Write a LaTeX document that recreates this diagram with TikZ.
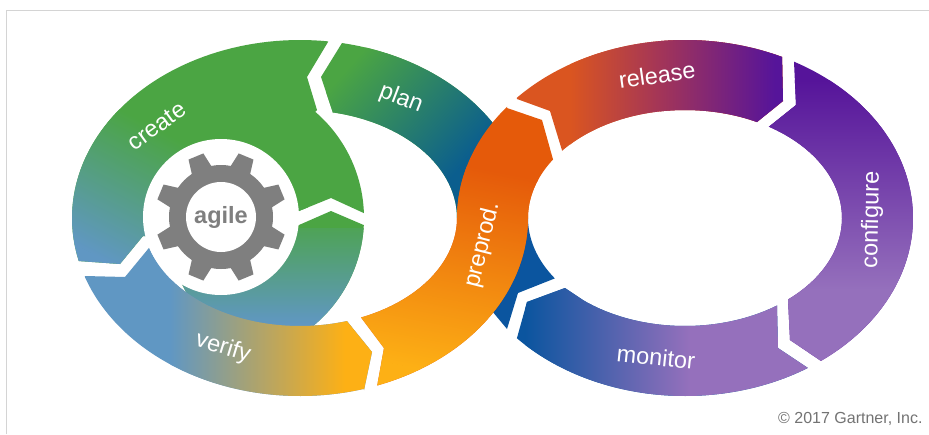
\documentclass[tikz,border=0pt]{standalone}
\usepackage{fontspec}
\setmainfont{Liberation Sans}
\usepackage{tikz}
\usetikzlibrary{calc}
\definecolor{cgreen}{HTML}{4BA543}
\definecolor{cblue}{HTML}{6097C3}
\definecolor{cyellow}{HTML}{FDB015}
\definecolor{cdeep}{HTML}{0B559F}
\definecolor{cteal}{HTML}{0B5E8E}
\definecolor{corange}{HTML}{E55A0A}
\definecolor{cred}{HTML}{DA5520}
\definecolor{cwine}{HTML}{A33558}
\definecolor{cpurple}{HTML}{56149A}
\definecolor{clilac}{HTML}{9570BC}
\definecolor{cgear}{HTML}{7F7F7F}
\tikzstyle{steptext} = [text=white, font=\fontsize{23.5}{26}\selectfont]
\tikzstyle{hub} = [circle, fill=white, inner sep=0pt]
% arcs of the two loops, of the inner spiral: #1, #2 are start and end angle
\newcommand{\outerL}[2]{-- plot[domain=#1:#2,samples=60] ({300+228*cos(\x)},{218+178*sin(\x)})}
\newcommand{\innerL}[2]{-- plot[domain=#1:#2,samples=60] ({300+157*cos(\x)},{218+108*sin(\x)})}
\newcommand{\outerR}[2]{-- plot[domain=#1:#2,samples=60] ({685+228*cos(\x)},{218+178*sin(\x)})}
\newcommand{\innerR}[2]{-- plot[domain=#1:#2,samples=60] ({685+157*cos(\x)},{218+108*sin(\x)})}
\newcommand{\spiral}[2]{-- plot[domain=#1:#2,samples=40] ({224+140*cos(\x)},{218+140*sin(\x)})}
\newcommand{\ramp}[6]{%
  \pgfmathsetmacro{\rampang}{atan2(-(#4-#2),#3-#1)}%
  \pgfmathsetmacro{\ramplen}{veclen(#4-#2,#3-#1)}%
  \pgfmathsetmacro{\rampend}{\ramplen-0.5}%
  \begin{scope}[transform canvas={shift={(#1,#2)},rotate=\rampang}]
    \fill[#6] (\rampend pt,-3000pt) rectangle (3000pt,3000pt);
    \shade[left color=#5,right color=#6] (0pt,-3000pt) rectangle (\ramplen pt,3000pt);
  \end{scope}}
\newcommand{\seg}[3]{%
  \begin{scope}
    \clip #2;
    \fill[#1] (0,0) rectangle (929,434);
    #3
  \end{scope}}
\begin{document}
\begin{tikzpicture}[x=1pt,y=-1pt]
\useasboundingbox (0,0) rectangle (929,434);
\fill[white] (0,0) rectangle (929,434);
\draw[black!17, line width=1pt] (6,434) -- (6,10) -- (929,10);

% left loop
\seg{cgreen}{(342,43) -- (321,77) -- (333,113) \innerL{-77.9}{0} \outerL{-20}{-79.4} -- cycle}{%
  \ramp{350}{65}{462}{165}{cgreen}{cteal}}
\seg{cgreen}{(299,225) -- (331,211) \spiral{2.9}{50.5} -- (250,330) -- (190,300) -- (170,260) -- cycle}{%
  \ramp{0}{228}{0}{325}{cgreen!85!cblue}{cblue}}
\seg{cblue}{(85,276) -- (125,277) \innerL{164}{72.6} -- (372,352) -- (364,390) \outerL{73.7}{160.6} -- cycle}{%
  \ramp{170}{0}{345}{0}{cblue}{cyellow}}
\seg{cgreen}{(328,42) -- (307,77) -- (317,110) \spiral{-49.3}{-2} -- (331,198) -- (299,211) -- (230,240) -- (143,236) -- (120,264) \outerL{166}{277.1} -- cycle}{%
  \ramp{150}{125}{85}{250}{cgreen}{cblue}}

% right loop
\fill[cdeep] (528,218) \innerR{180}{146} -- (518,293) -- (507,329) -- (492,311) -- cycle;
\seg{cdeep}{(565,288) -- (527,302) \outerR{137.5}{57.4} -- (778,348) -- (777,306) \innerR{54.1}{130.2} -- cycle}{%
  \ramp{525}{0}{690}{0}{cdeep}{clilac}}
\seg{cred}{(517,99) -- (550,111) \innerR{-141.5}{-62.7} -- (783,101) \outerR{-64.8}{-137.5} -- cycle}{%
  \ramp{570}{0}{660}{0}{cred}{cwine}
  \ramp{660}{0}{775}{0}{cwine}{cpurple}}
\seg{cpurple}{(794,62) -- (796,105) \innerR{-57.7}{49} -- (790,340) \outerR{53.4}{-61.4} -- cycle}{%
  \ramp{0}{80}{0}{290}{cpurple}{clilac}}
\seg{corange}{(507,108) -- (542,120) \innerR{-147.2}{-180} \outerL{0}{70.2} -- (384,348) \innerL{67.1}{0} \outerR{-180}{-141.3} -- cycle}{%
  \ramp{490}{170}{450}{375}{corange}{cyellow}}

% hub and gear
\node (hub) [hub, minimum size=156pt] at (221,217) {};
\fill[cgear] (hub.center) circle (52);
\foreach \a in {22.5,67.5,...,337.5}
  \fill[cgear, shift={(hub.center)}, rotate=\a] (-11,48) -- (-8,65.5) -- (8,65.5) -- (11,48) -- cycle;
\node (agile) [hub, minimum size=70pt, text=cgear, font=\fontsize{23.5}{26}\selectfont\bfseries] at (hub.center) {agile};

\node (create) [steptext, rotate=36] at (157,126) {create};
\node (plan) [steptext, rotate=-21] at (401,99) {plan};
\node (verify) [steptext, rotate=-17] at (223,348) {verify};
\node (preprod) [steptext, rotate=76] at (483,245) {preprod.};
\node (release) [steptext, rotate=8] at (657,75) {release};
\node (configure) [steptext, rotate=89] at (872,220) {configure};
\node (monitor) [steptext, rotate=-6] at (656,357) {monitor};
\node (gartner) [text=black!55, font=\fontsize{16}{18}\selectfont, anchor=east] at (926,419) {© 2017 Gartner, Inc.};
\end{tikzpicture}
\end{document}
